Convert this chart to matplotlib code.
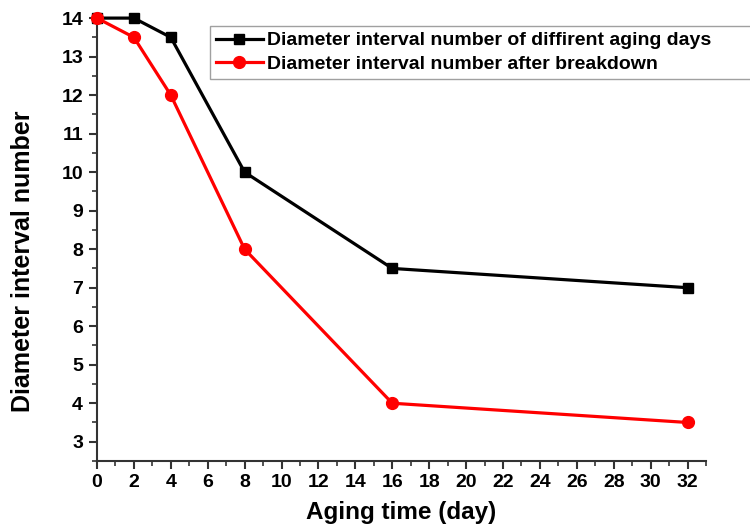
import matplotlib
matplotlib.use("Agg")
import matplotlib.pyplot as plt
from matplotlib.ticker import MultipleLocator

plt.rcParams['font.family'] = ['Liberation Sans', 'DejaVu Sans']
plt.rcParams['font.weight'] = 'bold'

days = [0, 2, 4, 8, 16, 32]
aging_days = [14, 14, 13.5, 10, 7.5, 7]
after_breakdown = [14, 13.5, 12, 8, 4, 3.5]
label_black = "Diameter interval number of diffirent aging days"
label_red = "Diameter interval number after breakdown"

fig = plt.figure(figsize=(7.5, 5.26), dpi=100)
ax = fig.add_axes([0.1293, 0.1236, 0.812, 0.842])

ax.plot(days, aging_days, color='black', lw=2.3, marker='s', ms=7, label=label_black, clip_on=False, zorder=3)
ax.plot(days, after_breakdown, color='red', lw=2.3, marker='o', ms=8.5, label=label_red, clip_on=False, zorder=4)

ax.set_xlim(0, 33)
ax.set_ylim(2.5, 14)
ax.xaxis.set_major_locator(MultipleLocator(2))
ax.xaxis.set_minor_locator(MultipleLocator(1))
ax.yaxis.set_major_locator(MultipleLocator(1))
ax.yaxis.set_minor_locator(MultipleLocator(0.5))
ax.set_yticks(range(3, 15))

for s in ['top', 'right']:
    ax.spines[s].set_visible(False)
for s in ['left', 'bottom']:
    ax.spines[s].set_linewidth(1.5)
    ax.spines[s].set_color('#333333')

ax.tick_params(which='major', direction='out', length=6, width=1.5, color='#333333', labelsize=14)
ax.tick_params(axis='y', which='major', pad=4)
ax.tick_params(which='minor', direction='out', length=3.5, width=1.2, color='#333333')
for lab in ax.get_xticklabels() + ax.get_yticklabels():
    lab.set_fontweight('bold')

ax.set_xlabel("Aging time (day)", fontsize=17.5, fontweight='bold')
ax.set_ylabel("Diameter interval number", fontsize=18, fontweight='bold')
ax.xaxis.set_label_coords(0.5, -0.09)
ax.yaxis.set_label_coords(-0.102, 0.45)

leg = fig.legend(loc='upper left', bbox_to_anchor=(210/750, 1 - 78/526, 560/750, 52/526),
                 mode='expand',
                 prop={'weight': 'bold', 'size': 14}, frameon=True, fancybox=False,
                 edgecolor='#888888', handlelength=2.4, handletextpad=0.25,
                 borderpad=0.3, labelspacing=0.3, borderaxespad=0)
leg.get_frame().set_linewidth(1.0)

fig.savefig("out.png", dpi=100)
